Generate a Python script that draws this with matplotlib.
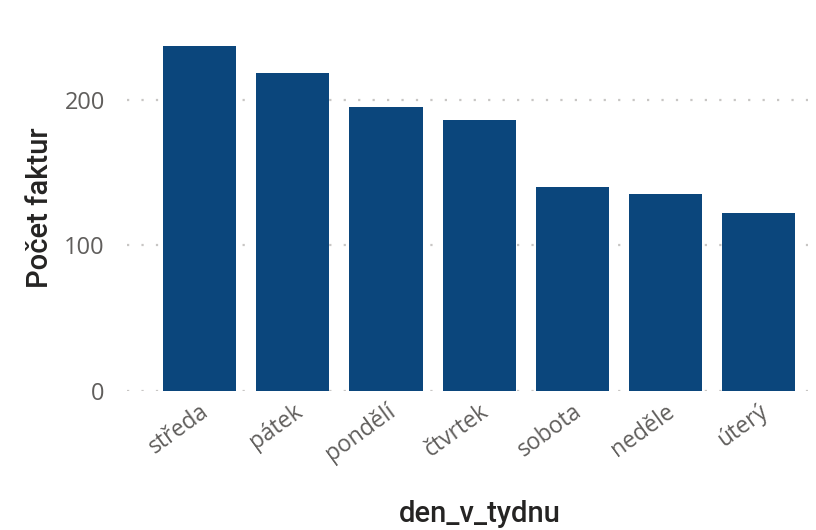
import matplotlib
matplotlib.use("Agg")
import matplotlib.pyplot as plt

categories = ["středa", "pátek", "pondělí", "čtvrtek", "sobota", "neděle", "úterý"]
values = [237, 218, 195, 186, 140, 135, 122]
yticks = [0, 100, 200]

fig = plt.figure(figsize=(8.16, 5.30), dpi=100)
ax = fig.add_axes([127/816, 1-391/530, (808-127)/816, (391-40)/530])

x = list(range(len(categories)))
ax.bar(x, values, width=0.785, color="#0B467C", zorder=3)
ax.set_xlim(-0.78, 6.53)
ax.set_ylim(0, 241)
ax.set_yticks(yticks)
ax.set_yticklabels([str(v) for v in yticks], fontsize=17, color="#605E5C", family="Open Sans")
ax.set_xticks(x)
ax.set_xticklabels(categories, rotation=36, ha="right", rotation_mode="anchor",
                   fontsize=16.5, color="#605E5C", family="Open Sans")
ax.tick_params(axis="both", length=0)
ax.tick_params(axis="y", pad=16)
ax.tick_params(axis="x", pad=6)
ax.grid(axis="y", color="#C8C6C4", linestyle=(0, (1, 5.5)), linewidth=1.6, zorder=0)
for s in ax.spines.values():
    s.set_visible(False)

fig.text(40/816, 1-208/530, "Počet faktur", fontsize=21, color="#252423", family="Roboto",
         weight="medium", rotation=90, ha="center", va="center")
fig.text(480/816, 1-514/530, "den_v_tydnu", fontsize=21, color="#252423", family="Roboto",
         weight="medium", ha="center", va="center")

fig.savefig("out.png", dpi=100)
